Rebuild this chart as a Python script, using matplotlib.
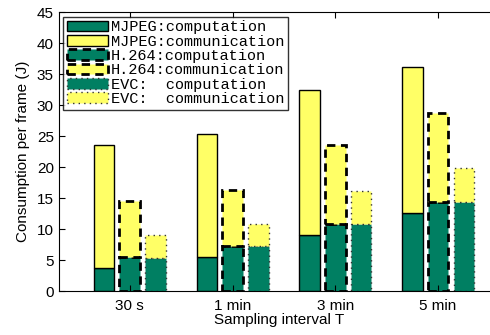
import numpy as np
import matplotlib
matplotlib.use("Agg")
import matplotlib.pyplot as plt

plt.rcParams['font.family'] = ['Liberation Sans', 'DejaVu Sans']

intervals = ["30 s", "1 min", "3 min", "5 min"]
mjpeg_comp = [3.7, 5.5, 9.0, 12.6]
mjpeg_total = [23.5, 25.3, 32.5, 36.1]
h264_comp = [5.5, 7.3, 10.8, 14.3]
h264_total = [14.5, 16.3, 23.5, 28.8]
evc_comp = [5.4, 7.3, 10.8, 14.3]
evc_total = [9.0, 10.9, 16.2, 19.8]

green = "#007f62"
yellow = "#ffff66"

mjpeg_comm = np.array(mjpeg_total) - np.array(mjpeg_comp)
h264_comm = np.array(h264_total) - np.array(h264_comp)
evc_comm = np.array(evc_total) - np.array(evc_comp)

fig = plt.figure(figsize=(4.9, 3.35), dpi=100)
ax = fig.add_axes([0.120, 0.131, 0.90, 0.833])

x = np.arange(len(intervals))
w = 0.2

ax.bar(x - 0.25, mjpeg_comp, w, color=green, edgecolor="black", linewidth=1.0,
       label="MJPEG:computation")
ax.bar(x - 0.25, mjpeg_comm, w, bottom=mjpeg_comp, color=yellow, edgecolor="black",
       linewidth=1.0, label="MJPEG:communication")
ax.bar(x, h264_comp, w, color=green, edgecolor="black", linewidth=2.0,
       linestyle=(0, (3, 2)), label="H.264:computation")
ax.bar(x, h264_comm, w, bottom=h264_comp, color=yellow, edgecolor="black",
       linewidth=2.0, linestyle=(0, (3, 2)), label="H.264:communication")
ax.bar(x + 0.25, evc_comp, w, color=green, edgecolor="#333333", linewidth=1.0,
       linestyle=(0, (1, 3)), label="EVC:  computation")
ax.bar(x + 0.25, evc_comm, w, bottom=evc_comp, color=yellow, edgecolor="#333333",
       linewidth=1.0, linestyle=(0, (1, 3)), label="EVC:  communication")

ax.set_xlim(-0.69, 3.60)
ax.set_ylim(0, 45)
ax.set_yticks(range(0, 46, 5))
ax.set_xticks(x)
ax.set_xticklabels(intervals)
ax.tick_params(direction="in", top=True, labelsize=11, length=4)
ax.tick_params(axis="x", pad=6)
ax.spines['right'].set_visible(False)

ax.set_xlabel("Sampling interval T", fontsize=11, labelpad=0)
ax.set_ylabel("Consumption per frame (J)", fontsize=11, labelpad=5)

leg = ax.legend(loc="upper left", prop={'family': 'Liberation Mono', 'size': 11},
                frameon=True, fancybox=False, edgecolor="black",
                handlelength=2.7, handleheight=0.7, labelspacing=0.02,
                handletextpad=0.15, borderpad=0.25, borderaxespad=0.3)
leg.get_frame().set_linewidth(1.0)

fig.savefig("out.png", dpi=100)
